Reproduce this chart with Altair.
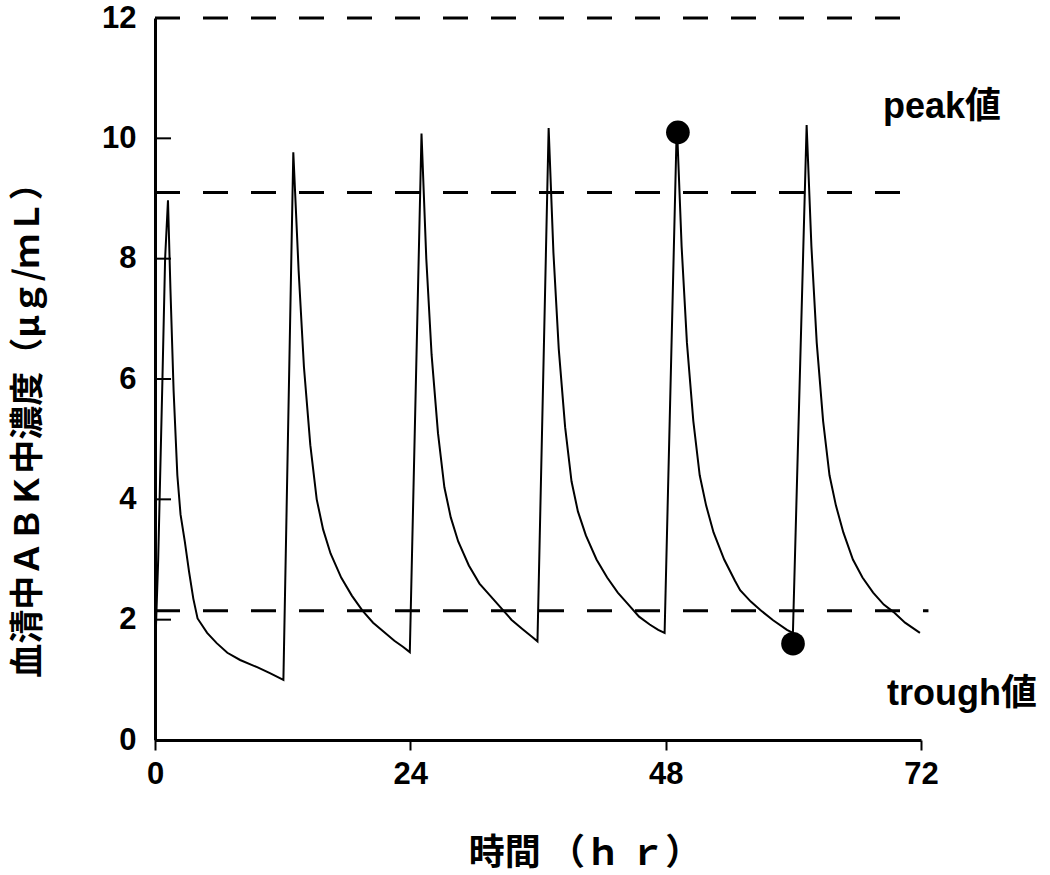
import altair as alt
import pandas as pd

# ---- serum concentration curve (time in hr, concentration in µg/mL) ----
time_hr = [
    0.0, 0.3, 0.7, 0.95, 1.22, 1.45, 1.75, 2.1, 2.4, 2.8, 3.2, 3.6, 4.0, 4.9, 5.8, 6.8, 8.0, 9.6, 10.8, 12.07,
    13.0, 13.5, 14.0, 14.6, 15.2, 15.8, 16.5, 17.5, 18.5, 19.5, 20.5, 21.5, 22.5, 23.3, 23.95,
    25.05, 25.5, 26.0, 26.6, 27.2, 27.8, 28.5, 29.5, 30.5, 31.5, 32.5, 33.5, 34.5, 35.4, 35.95,
    37.0, 37.45, 37.95, 38.55, 39.15, 39.75, 40.5, 41.5, 42.5, 43.5, 44.5, 45.5, 46.5, 47.3, 47.9,
    49.05, 49.5, 50.0, 50.6, 51.2, 51.8, 52.5, 53.5, 54.5, 55.0, 56.0, 56.9, 58.1, 59.4, 59.96,
    61.25, 61.7, 62.2, 62.8, 63.4, 64.0, 64.7, 65.6, 66.5, 67.5, 68.5, 69.4, 70.5, 71.9,
]
conc = [
    1.4, 3.0, 6.0, 8.0, 8.97, 7.5, 5.8, 4.4, 3.75, 3.3, 2.8, 2.35, 2.02, 1.78, 1.61, 1.45, 1.33, 1.21, 1.11, 1.0,
    9.77, 7.8, 6.2, 4.9, 4.0, 3.5, 3.1, 2.7, 2.4, 2.15, 1.95, 1.8, 1.65, 1.55, 1.46,
    10.08, 8.0, 6.4, 5.1, 4.2, 3.7, 3.3, 2.9, 2.6, 2.4, 2.2, 2.0, 1.85, 1.72, 1.64,
    10.17, 8.1, 6.5, 5.2, 4.3, 3.8, 3.4, 3.0, 2.7, 2.45, 2.25, 2.05, 1.92, 1.83, 1.78,
    10.25, 8.2, 6.6, 5.3, 4.4, 3.9, 3.45, 3.0, 2.65, 2.49, 2.3, 2.16, 1.99, 1.83, 1.78,
    10.22, 8.2, 6.6, 5.3, 4.4, 3.9, 3.45, 3.0, 2.7, 2.45, 2.25, 2.13, 1.95, 1.78,
]

# ---- highlighted peak / trough points ----
marker_t = [49.15, 59.97]
marker_c = [10.1, 1.6]

# ---- dashed reference levels ----
ref_level = [12.0, 9.1, 2.15]
ref_start = [0.0, 0.0, 0.0]
ref_end = [70.5, 70.5, 72.7]

# ---- axis ticks ----
x_ticks = [0, 24, 48, 72]
y_ticks = [0, 2, 4, 6, 8, 10, 12]

# ---- texts ----
peak_label = ["peak値"]
trough_label = ["trough値"]
x_title = ["時間 （ｈ ｒ）"]
y_title = ["血清中ＡＢＫ中濃度（μｇ/ｍＬ）"]

curve_df = pd.DataFrame({"t": time_hr, "c": conc, "i": list(range(len(time_hr)))})
marker_df = pd.DataFrame({"t": marker_t, "c": marker_c})
ref_df = pd.DataFrame({"t": ref_start, "t2": ref_end, "c": ref_level})
ytick_df = pd.DataFrame({"c": y_ticks})

LATIN = "Liberation Sans, Noto Sans CJK JP"
CJK = "Noto Sans CJK JP"

x_scale = alt.Scale(domain=[0, 72], nice=False, zero=False)
y_scale = alt.Scale(domain=[0, 12], nice=False, zero=False)

x_axis = alt.Axis(
    values=x_ticks, title=None, grid=False, domain=True, domainColor="black", domainWidth=3,
    ticks=True, tickColor="black", tickWidth=2, tickSize=10, labelFont="Liberation Sans",
    labelFontSize=31, labelFontWeight="bold", labelColor="black", labelPadding=9,
    labelFlush=False,
)
y_axis = alt.Axis(
    values=y_ticks, title=None, grid=False, domain=True, domainColor="black", domainWidth=3,
    ticks=False, labelFont="Liberation Sans", labelFontSize=31, labelFontWeight="bold",
    labelColor="black", labelPadding=19, labelFlush=False,
)

X = alt.X("t:Q", scale=x_scale, axis=x_axis)
Y = alt.Y("c:Q", scale=y_scale, axis=y_axis)

curve = alt.Chart(curve_df).mark_line(color="black", strokeWidth=2).encode(
    x=X, y=Y, order="i:Q"
)

refs = alt.Chart(ref_df).mark_rule(color="black", strokeWidth=3, strokeDash=[25, 23]).encode(
    x=X, x2="t2:Q", y=Y
)

yticks = alt.Chart(ytick_df).mark_rule(color="black", strokeWidth=2).encode(
    y=Y, x=alt.value(0), x2=alt.value(16)
)

markers = alt.Chart(marker_df).mark_circle(color="black", opacity=1, size=560).encode(
    x=X, y=Y
)

peak_txt = alt.Chart(pd.DataFrame({"label": peak_label})).mark_text(
    font=LATIN, fontSize=36, fontWeight="bold", color="black", align="left", baseline="alphabetic"
).encode(x=alt.value(728), y=alt.value(100), text="label:N")

trough_txt = alt.Chart(pd.DataFrame({"label": trough_label})).mark_text(
    font=LATIN, fontSize=36, fontWeight="bold", color="black", align="left", baseline="alphabetic"
).encode(x=alt.value(732), y=alt.value(687), text="label:N")

xtitle_txt = alt.Chart(pd.DataFrame({"label": x_title})).mark_text(
    font=CJK, fontSize=36, fontWeight="bold", color="black", align="center", baseline="middle"
).encode(x=alt.value(430), y=alt.value(836), text="label:N")

ytitle_txt = alt.Chart(pd.DataFrame({"label": y_title})).mark_text(
    font=CJK, fontSize=34, fontWeight="bold", color="black", align="center", baseline="middle",
    angle=270,
).encode(x=alt.value(-126), y=alt.value(404), text="label:N")

chart = alt.layer(
    refs, curve, yticks, markers, peak_txt, trough_txt, xtitle_txt, ytitle_txt
).properties(
    width=766,
    height=722,
    autosize=alt.AutoSizeParams(type="none"),
    padding={"left": 155, "top": 18, "right": 129, "bottom": 135},
    background="white",
).configure_view(stroke=None)

chart.save("out.html", embed_options={"renderer": "svg", "actions": False})
